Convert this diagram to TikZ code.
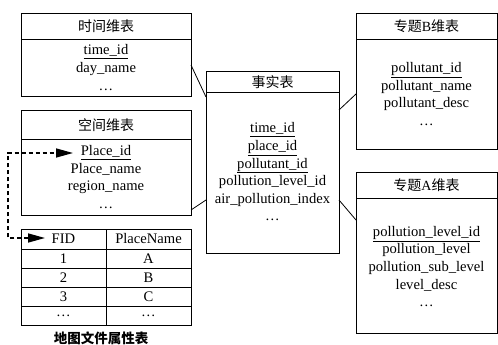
\documentclass[tikz,border=0pt]{standalone}
\usepackage{fontspec}
\setmainfont{Liberation Serif}
\newfontfamily\cjk{Noto Sans CJK SC}
\usetikzlibrary{arrows.meta,calc}
\begin{document}
\begin{tikzpicture}[x=1pt,y=-1pt,
  box/.style={draw, line width=0.9pt, anchor=north west, inner sep=0pt},
  hdr/.style={inner sep=0pt, font=\fontsize{14}{16}\selectfont\cjk},
  body/.style={inner sep=0pt, align=center, font=\fontsize{14.6}{17.6}\selectfont},
  cell/.style={inner sep=0pt, font=\fontsize{14.6}{17.6}\selectfont},
  conn/.style={line width=0.8pt},
  dlink/.style={line width=1.5pt, dash pattern=on 4pt off 3pt, {Triangle[length=17pt,width=9pt]}-{Triangle[length=17pt,width=9pt]}}]
\useasboundingbox (0,0) rectangle (498,345);

% time dimension
\node[box, minimum width=170pt, minimum height=83pt] (time) at (21,13) {};
\draw[line width=0.9pt] (21,39) -- (191,39);
\node[hdr] (timeh) at (106,26) {时间维表};
\node[body] (timeb) at (106,67.5) {\underline{time\_id}\\day\_name\\\ldots};

% space dimension
\node[box, minimum width=170pt, minimum height=105pt] (space) at (21,110) {};
\draw[line width=0.9pt] (21,139) -- (191,139);
\node[hdr] (spaceh) at (106,125) {空间维表};
\node[body] (spaceb) at (106,177) {\underline{Place\_id}\\Place\_name\\region\_name\\\ldots};

% fact table
\node[box, minimum width=133pt, minimum height=182pt] (fact) at (206,71) {};
\draw[line width=0.9pt] (206,92) -- (339,92);
\node[hdr] (facth) at (272.5,82) {事实表};
\node[body] (factb) at (272.5,172) {\underline{time\_id}\\\underline{place\_id}\\\underline{pollutant\_id}\\pollution\_level\_id\\air\_pollution\_index\\\ldots};

% topic B
\node[box, minimum width=141pt, minimum height=136pt] (topb) at (356,13) {};
\draw[line width=0.9pt] (356,39) -- (497,39);
\node[hdr] (topbh) at (426.5,26) {专题{\rmfamily B}维表};
\node[body] (topbb) at (426.5,94) {\underline{pollutant\_id}\\pollutant\_name\\pollutant\_desc\\\ldots};

% topic A
\node[box, minimum width=141pt, minimum height=161pt] (topa) at (356,172) {};
\draw[line width=0.9pt] (356,198) -- (497,198);
\node[hdr] (topah) at (426.5,185) {专题{\rmfamily A}维表};
\node[body] (topab) at (426.5,266.5) {\underline{pollution\_level\_id}\\pollution\_level\\pollution\_sub\_level\\level\_desc\\\ldots};

% map attribute table
\node[box, minimum width=170pt, minimum height=96pt] (maptab) at (21,229) {};
\draw[line width=0.8pt] (106,229) -- (106,325);
\foreach \yy in {249,268,287,306} \draw[line width=0.8pt] (21,\yy) -- (191,\yy);
\node[cell] (c11) at (63.5,239) {FID};
\node[cell] (c12) at (148.5,239) {PlaceName};
\node[cell] (c21) at (63.5,258.5) {1};
\node[cell] (c22) at (148.5,258.5) {A};
\node[cell] (c31) at (63.5,277.5) {2};
\node[cell] (c32) at (148.5,277.5) {B};
\node[cell] (c41) at (63.5,296.5) {3};
\node[cell] (c42) at (148.5,296.5) {C};
\node[cell] (c51) at (63.5,316) {\ldots};
\node[cell] (c52) at (148.5,316) {\ldots};
\node[inner sep=0pt, font=\fontsize{13.5}{16}\selectfont\cjk\bfseries] (cap) at (101,338) {地图文件属性表};

% connectors
\coordinate (t1) at (191,65);
\coordinate (f1) at (206,97);
\coordinate (s1) at (191,210);
\coordinate (f2) at (206,200);
\coordinate (f3) at (339,110);
\coordinate (b1) at (356,94);
\coordinate (f4) at (339,200);
\coordinate (a1) at (356,220);
\draw[conn] (t1) -- (f1);
\draw[conn] (s1) -- (f2);
\draw[conn] (f3) -- (b1);
\draw[conn] (f4) -- (a1);

% dashed link
\coordinate (pid) at (73,153);
\coordinate (fid) at (45,238);
\coordinate (k1) at (8,153);
\coordinate (k2) at (8,238);
\draw[dlink] (fid) -- (k2) -- (k1) -- (pid);
\end{tikzpicture}
\end{document}
